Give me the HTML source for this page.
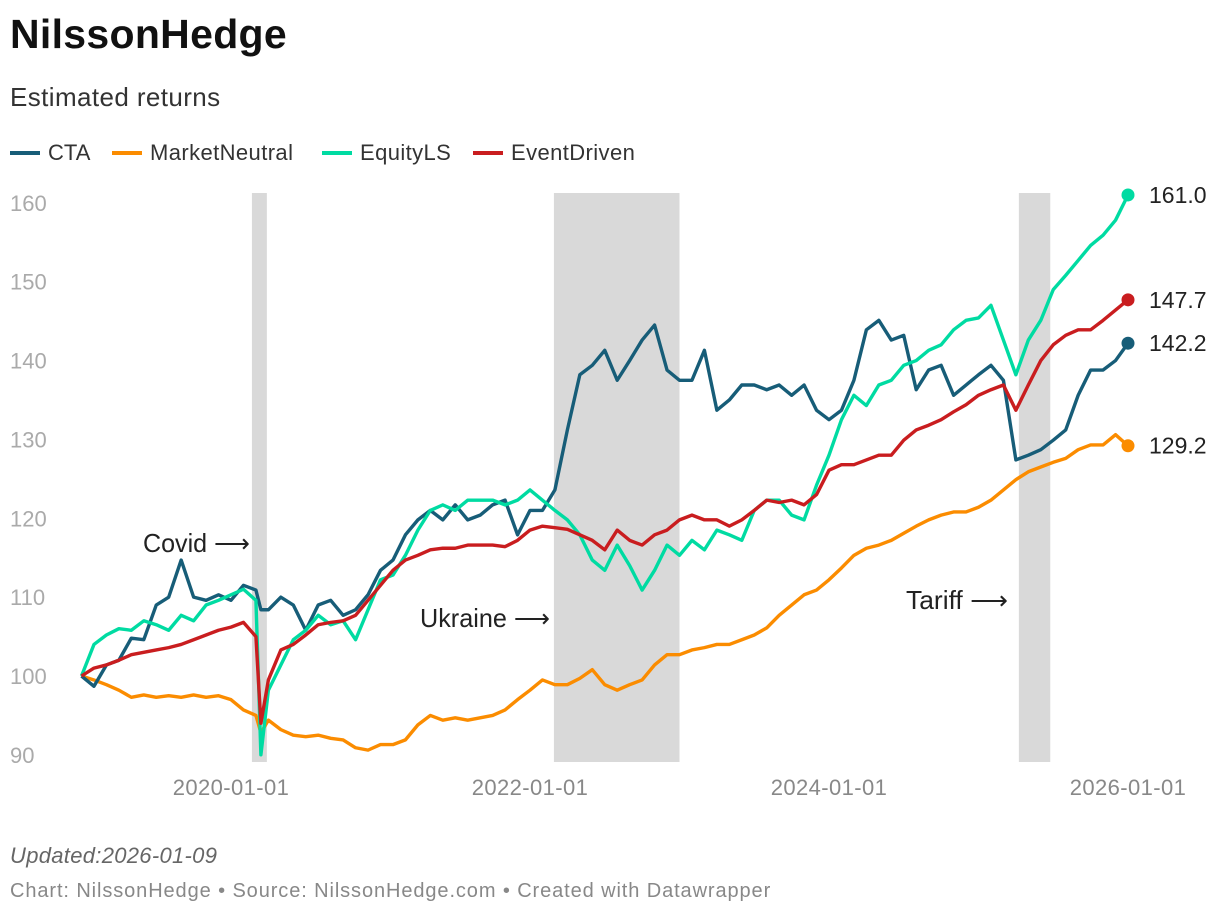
<!DOCTYPE html>
<html><head><meta charset="utf-8">
<style>
body{margin:0;background:#fff;font-family:"Liberation Sans",sans-serif;}
#wrap{position:relative;width:1220px;height:916px;overflow:hidden;}
.t{position:absolute;white-space:nowrap;}
.lg{position:absolute;top:140px;font-size:22px;color:#333;white-space:nowrap;}
.sw{position:absolute;top:11px;width:30px;height:4px;}
</style></head>
<body>
<div id="wrap">
<div class="t" style="left:10px;top:11px;font-size:41px;font-weight:bold;color:#111;letter-spacing:0.3px">NilssonHedge</div>
<div class="t" style="left:10px;top:82px;font-size:26px;color:#333;letter-spacing:0.4px">Estimated returns</div>
<div class="lg" style="left:10px"><span class="sw" style="left:0;background:#175d78"></span><span style="margin-left:38px">CTA</span></div>
<div class="lg" style="left:112px"><span class="sw" style="left:0;background:#fb8c00"></span><span style="margin-left:38px;letter-spacing:0.4px">MarketNeutral</span></div>
<div class="lg" style="left:322px"><span class="sw" style="left:0;background:#00dba2"></span><span style="margin-left:38px;letter-spacing:0.4px">EquityLS</span></div>
<div class="lg" style="left:473px"><span class="sw" style="left:0;background:#c91d1f"></span><span style="margin-left:38px;letter-spacing:0.4px">EventDriven</span></div>
<svg id="plot" width="1220" height="916" style="position:absolute;left:0;top:0"></svg>
<div class="t" style="left:10px;top:843px;font-size:22px;font-style:italic;color:#666;letter-spacing:0.3px">Updated:2026-01-09</div>
<div class="t" style="left:10px;top:880px;font-size:20px;color:#888;letter-spacing:0.9px">Chart: NilssonHedge • Source: NilssonHedge.com • Created with Datawrapper</div>
</div>
<script>
const months=[];for(let m=0;m<=84;m++)months.push(2019+m/12);
const cta=[100,98.7,101.4,102,104.8,104.6,109,110,114.7,110,109.6,110.3,109.6,111.5,110.9,108.4,110,109,105.8,109,109.6,107.7,108.4,110.3,113.4,114.7,117.9,119.8,121,119.8,121.7,119.8,120.4,121.7,122.3,117.9,121,121,123.6,131.2,138.2,139.4,141.3,137.5,140,142.6,144.5,138.8,137.5,137.5,141.3,133.7,135,136.9,136.9,136.3,136.9,135.6,136.9,133.7,132.5,133.7,137.5,143.9,145.1,142.6,143.2,136.3,138.8,139.4,135.6,136.9,138.2,139.4,137.5,127.4,128,128.7,129.9,131.2,135.6,138.8,138.8,140,142.2];
const equityLS=[100,104,105.2,106,105.8,107,106.5,105.8,107.7,107,109,109.6,110.3,111,109.6,98.2,101.4,104.6,105.8,107.7,106.5,107,104.6,108.4,112.2,112.8,115.3,118.5,121,121.7,121,122.3,122.3,122.3,121.7,122.3,123.6,122.3,121,119.8,117.9,114.7,113.4,116.6,114,110.9,113.4,116.6,115.3,117.2,116,118.5,117.9,117.2,121,122.3,122.3,120.4,119.8,124.2,128,132.5,135.6,134.3,136.9,137.5,139.4,140,141.3,142,143.9,145.1,145.4,147,142.6,138.2,142.6,145.1,149,150.8,152.7,154.6,155.9,157.8,161];
const eventDriven=[100,101,101.4,102,102.7,103,103.3,103.6,104,104.6,105.2,105.8,106.2,106.8,105,99.5,103.3,104,105.2,106.5,106.8,107,107.7,109.6,111.5,113.4,114.7,115.3,116,116.2,116.2,116.6,116.6,116.6,116.4,117.2,118.5,119,118.8,118.6,117.9,117.2,116,118.5,117.2,116.6,117.9,118.5,119.8,120.4,119.8,119.8,119,119.8,121,122.3,122,122.3,121.7,123,126.1,126.8,126.8,127.4,128,128,129.9,131.2,131.8,132.5,133.5,134.4,135.6,136.3,136.9,133.7,136.9,140,142,143.2,143.9,143.9,145.1,146.4,147.7];
const marketNeutral=[100,99.5,98.9,98.2,97.3,97.6,97.3,97.5,97.3,97.6,97.3,97.5,97,95.7,95,94.4,93.2,92.5,92.3,92.5,92.1,91.9,90.9,90.6,91.3,91.3,91.9,93.8,95,94.4,94.7,94.4,94.7,95,95.7,97,98.2,99.5,98.9,98.9,99.7,100.8,98.9,98.2,98.9,99.5,101.4,102.7,102.7,103.3,103.6,104,104,104.6,105.2,106.1,107.7,109,110.3,110.9,112.2,113.7,115.3,116.2,116.6,117.2,118.1,119,119.8,120.4,120.8,120.8,121.4,122.3,123.6,124.9,125.9,126.5,127.1,127.6,128.7,129.3,129.3,130.6,129.2];
const covidDate=[2020.2];
const covidVals={cta:[108.4],equityLS:[90],eventDriven:[94],marketNeutral:[92.8]};
const yTicks=[90,100,110,120,130,140,150,160];
const xTickYears=[2020,2022,2024,2026];
const xTickLabels=["2020-01-01","2022-01-01","2024-01-01","2026-01-01"];
const shades=[[2020.14,2020.24],[2022.16,2023.0],[2025.27,2025.48]];
const endLabels=["142.2","129.2","161.0","147.7"];

const X=t=>81.5+(t-2019)*149.5;
const Y=v=>676-(v-100)*7.886;
const svg=document.getElementById('plot');
const NS='http://www.w3.org/2000/svg';
function mk(tag,attrs){const e=document.createElementNS(NS,tag);for(const k in attrs)e.setAttribute(k,attrs[k]);svg.appendChild(e);return e;}
shades.forEach(s=>{
 const r=mk('rect',{x:X(s[0]),y:193,width:X(s[1])-X(s[0]),height:569,fill:'#d9d9d9'});
 
 
});
yTicks.forEach(v=>{
 const t=mk('text',{x:10,y:Y(v)+8,'font-size':22,fill:'#aaa','font-family':'Liberation Sans, sans-serif'});
 t.textContent=v;
 
 
});
xTickYears.forEach((yr,i)=>{
 const t=mk('text',{x:X(yr),y:795,'font-size':22,fill:'#888','text-anchor':'middle','letter-spacing':'0.4','font-family':'Liberation Sans, sans-serif'});
 t.textContent=xTickLabels[i];
 
 
});
const series=[['cta',cta,'#175d78'],['marketNeutral',marketNeutral,'#fb8c00'],['equityLS',equityLS,'#00dba2'],['eventDriven',eventDriven,'#c91d1f']];
const order=[1,0,2,3];
order.forEach(i=>{
 const [name,vals,col]=series[i];
 const pts=[];
 months.forEach((t,j)=>{
  if(t>covidDate[0]&&months[j-1]<covidDate[0])pts.push([X(covidDate[0]),Y(covidVals[name][0])]);
  pts.push([X(t),Y(vals[j])]);
 });
 const p=mk('polyline',{points:pts.map(p=>p.join(',')).join(' '),fill:'none',stroke:col,'stroke-width':3.4,'stroke-linejoin':'round'});
 
 
});
series.forEach(([name,vals,col],i)=>{
 const last=vals[vals.length-1];
 const c=mk('circle',{cx:X(months[months.length-1]),cy:Y(last),r:6.5,fill:col});
 
 
 const t=mk('text',{x:1149,y:Y(last)+8,'font-size':23,fill:'#222','font-family':'Liberation Sans, sans-serif'});
 t.textContent=endLabels[i];
 
 
});
[['Covid',143,552,250],['Ukraine',420,627,550],['Tariff',906,609,1008]].forEach(a=>{
 const t=mk('text',{x:a[1],y:a[2],'font-size':26,fill:'#222','font-family':'Liberation Sans, sans-serif'});
 t.textContent=a[0]+' ⟶';
 
 
 t.setAttribute('textLength',a[3]-a[1]);
 t.setAttribute('lengthAdjust','spacingAndGlyphs');
});
</script>
</body></html>
